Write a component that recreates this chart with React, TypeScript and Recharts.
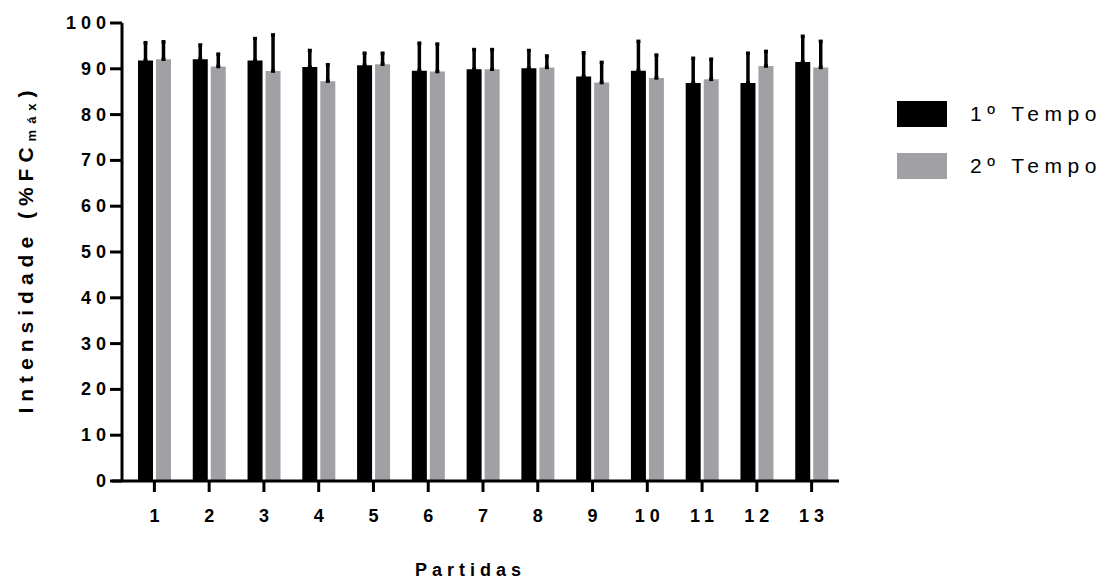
import React from 'react'
import { BarChart, Bar, XAxis, YAxis, ErrorBar } from 'recharts'

const partidas = ['1', '2', '3', '4', '5', '6', '7', '8', '9', '10', '11', '12', '13']
const tempo1 = [91.8, 92.1, 91.8, 90.4, 90.8, 89.6, 89.9, 90.1, 88.3, 89.6, 86.9, 86.9, 91.5]
const dp1 = [3.9, 3.1, 4.8, 3.6, 2.6, 6.0, 4.3, 3.9, 5.2, 6.4, 5.4, 6.5, 5.6]
const tempo2 = [92.1, 90.5, 89.5, 87.3, 91.0, 89.4, 89.9, 90.3, 87.0, 88.0, 87.7, 90.6, 90.3]
const dp2 = [3.8, 2.7, 7.9, 3.6, 2.4, 6.0, 4.3, 2.5, 4.4, 5.0, 4.4, 3.2, 5.7]
const yTicks = [0, 10, 20, 30, 40, 50, 60, 70, 80, 90, 100]

const series = [
  { key: 't1', err: 'e1', name: '1º Tempo', color: '#000000' },
  { key: 't2', err: 'e2', name: '2º Tempo', color: '#a1a0a5' },
]

// only the upper half of the SD is drawn
const data = partidas.map((p, i) => ({
  partida: p,
  t1: tempo1[i],
  e1: [0, dp1[i]],
  t2: tempo2[i],
  e2: [0, dp2[i]],
}))

const font = '"Liberation Sans", Arial, sans-serif'
const axisStroke = { stroke: '#000', strokeWidth: 3 }

const YTick = ({ x, y, payload }: any) => (
  <text x={x + 13} y={y} textAnchor="end" dominantBaseline="central"
    style={{ fontFamily: font, fontSize: 18, fontWeight: 700, letterSpacing: 5 }} fill="#000">
    {payload.value}
  </text>
)

const XTick = ({ x, y, payload }: any) => (
  <text x={x + 2.5} y={y + 22} textAnchor="middle" dominantBaseline="central"
    style={{ fontFamily: font, fontSize: 18, fontWeight: 700, letterSpacing: 5 }} fill="#000">
    {payload.value}
  </text>
)

const YLabel = () => (
  <text x={25} y={249} textAnchor="middle" dominantBaseline="central" transform="rotate(-90, 25, 249)"
    style={{ fontFamily: font, fontSize: 21, fontWeight: 700, letterSpacing: 6 }} fill="#000">
    Intensidade (%FC
    <tspan dy={6} style={{ fontSize: 13 }}>máx</tspan>
    <tspan dy={-6}>)</tspan>
  </text>
)

export default function App() {
  return (
    <div style={{ position: 'absolute', left: 0, top: 0, width: 1107, height: 582, background: '#fff' }}>
      <BarChart width={1107} height={582} data={data} barSize={15} barGap={3}
        margin={{ top: 23, right: 268, bottom: 0, left: 0 }}>
        <XAxis dataKey="partida" height={101} padding={{ left: 15, right: 0 }}
          axisLine={axisStroke} tickLine={axisStroke} tickSize={11} tick={<XTick />} interval={0}
          label={{ value: 'Partidas', position: 'insideBottom', offset: 6, dx: -5,
            style: { fontFamily: font, fontSize: 18, fontWeight: 700, letterSpacing: 5, fill: '#000' } }} />
        <YAxis width={112} domain={[0, 100]} ticks={yTicks} interval={0}
          axisLine={{ ...axisStroke, transform: 'translate(10 0)' }}
          tickLine={{ ...axisStroke, transform: 'translate(10 0)' }}
          tickSize={12} tickMargin={2} tick={<YTick />} label={<YLabel />} />
        {series.map(s => (
          <Bar key={s.key} dataKey={s.key} name={s.name} fill={s.color} isAnimationActive={false}>
            <ErrorBar dataKey={s.err} direction="y" width={2} stroke="#000" strokeWidth={3.5} isAnimationActive={false} />
          </Bar>
        ))}
      </BarChart>
      <div style={{ position: 'absolute', left: 897, top: 101, fontFamily: font }}>
        {series.map(s => (
          <div key={s.key} style={{ display: 'flex', alignItems: 'center', height: 26, marginBottom: 26 }}>
            <div style={{ width: 50, height: 26, background: s.color }} />
            <span style={{ marginLeft: 23, fontSize: 21, letterSpacing: 5.5, color: '#000', whiteSpace: 'nowrap' }}>{s.name}</span>
          </div>
        ))}
      </div>
    </div>
  )
}
